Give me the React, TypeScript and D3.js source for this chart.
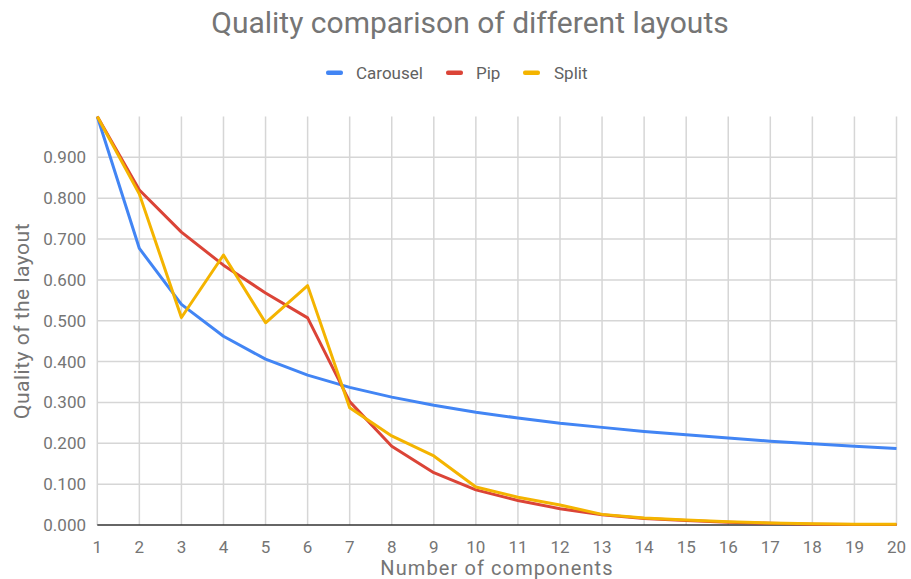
import React from "react";
import * as d3 from "d3";

const components = [1, 2, 3, 4, 5, 6, 7, 8, 9, 10, 11, 12, 13, 14, 15, 16, 17, 18, 19, 20];
const carousel = [1.0, 0.677, 0.54, 0.462, 0.406, 0.367, 0.337, 0.313, 0.293, 0.276, 0.262, 0.249, 0.239, 0.229, 0.221, 0.213, 0.205, 0.199, 0.193, 0.187];
const pip = [1.0, 0.82, 0.717, 0.636, 0.568, 0.507, 0.302, 0.193, 0.128, 0.086, 0.06, 0.04, 0.025, 0.016, 0.011, 0.007, 0.004, 0.002, 0.001, 0.001];
const split = [1.0, 0.81, 0.508, 0.661, 0.495, 0.586, 0.287, 0.218, 0.169, 0.093, 0.068, 0.049, 0.026, 0.017, 0.012, 0.008, 0.005, 0.003, 0.002, 0.002];
const yTicks = [0, 0.1, 0.2, 0.3, 0.4, 0.5, 0.6, 0.7, 0.8, 0.9];
const seriesNames = ["Carousel", "Pip", "Split"];
const seriesColors = ["#4285F4", "#DB4437", "#F4B400"];

const W = 911;
const H = 579;

export default function App() {
  const x = d3.scaleLinear().domain([1, 20]).range([97.3, 896.5]);
  const y = d3.scaleLinear().domain([0, 1]).range([525, 116.5]);
  const fmt = d3.format(".3f");
  const line = d3
    .line<number>()
    .x((_, i) => x(components[i]))
    .y((d) => y(d));
  const data = [carousel, pip, split];
  const font = "Roboto, 'Noto Sans', sans-serif";
  const legendItems = [
    { sx: 326, tx: 356 },
    { sx: 446, tx: 476 },
    { sx: 523, tx: 554 },
  ];

  return (
    <svg
      width={W}
      height={H}
      style={{ position: "absolute", left: 0, top: 0, background: "#fff" }}
      fontFamily={font}
    >
      <rect x={0} y={0} width={W} height={H} fill="#fff" />
      <text x={470} y={33} textAnchor="middle" fontSize={30} fill="#757575">
        Quality comparison of different layouts
      </text>
      {seriesNames.map((n, i) => (
        <g key={n}>
          <rect x={legendItems[i].sx} y={70.5} width={17} height={4.5} rx={2} fill={seriesColors[i]} />
          <text x={legendItems[i].tx} y={79} fontSize={17} fill="#616161">
            {n}
          </text>
        </g>
      ))}
      {yTicks.slice(1).map((t) => (
        <line key={"h" + t} x1={x(1)} x2={x(20)} y1={y(t)} y2={y(t)} stroke="#d6d6d6" strokeWidth={1.5} />
      ))}
      {components.map((c) => (
        <line key={"v" + c} x1={x(c)} x2={x(c)} y1={y(1)} y2={y(0)} stroke="#d6d6d6" strokeWidth={1.5} />
      ))}
      <line x1={x(1)} x2={x(20)} y1={y(0)} y2={y(0)} stroke="#333" strokeWidth={1.5} />
      {yTicks.map((t) => (
        <text key={"yl" + t} x={86} y={y(t) + 6} textAnchor="end" fontSize={17} fill="#757575">
          {fmt(t)}
        </text>
      ))}
      {components.map((c) => (
        <text key={"xl" + c} x={x(c)} y={553} textAnchor="middle" fontSize={17} fill="#757575">
          {c}
        </text>
      ))}
      <text x={497} y={575} textAnchor="middle" fontSize={20} letterSpacing={1.1} fill="#757575">
        Number of components
      </text>
      <text transform={`translate(29,321) rotate(-90)`} textAnchor="middle" fontSize={21} letterSpacing={0.5} fill="#757575">
        Quality of the layout
      </text>
      {data.map((d, i) => (
        <path key={"s" + i} d={line(d) || ""} fill="none" stroke={seriesColors[i]} strokeWidth={3} strokeLinejoin="round" />
      ))}
    </svg>
  );
}
